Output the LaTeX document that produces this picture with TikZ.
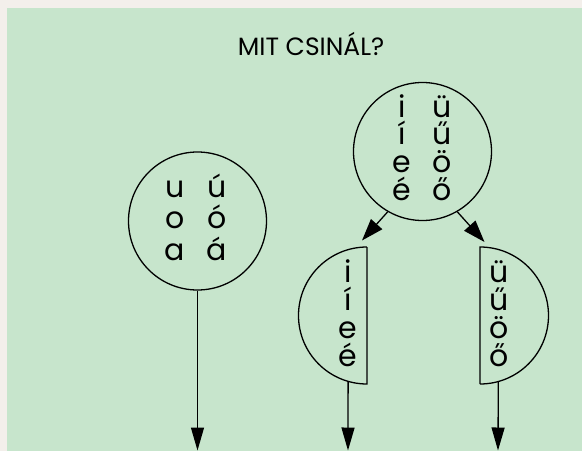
\documentclass[tikz,border=0pt]{standalone}
\usepackage{fontspec}
\setmainfont{Poppins}
\usetikzlibrary{arrows.meta}
\definecolor{bggreen}{RGB}{199,229,204}
\definecolor{paper}{RGB}{243,239,235}
\tikzset{
  ring/.style={draw, circle, line width=1.3pt, minimum size=138pt, inner sep=0pt},
  half/.style={draw, line width=1.3pt},
  vowel/.style={anchor=base, inner sep=0pt, font=\fontsize{30}{30}\selectfont},
  title/.style={anchor=base, inner sep=0pt, font=\fontsize{25}{25}\selectfont},
  arr/.style={line width=1.3pt, -{Triangle[length=23pt,width=13pt]}},
  darr/.style={line width=1.3pt, -{Triangle[length=22pt,width=15pt]}}
}
\begin{document}
\begin{tikzpicture}[x=1pt,y=-1pt]
\useasboundingbox (0,0) rectangle (582,451);
\fill[paper] (0,0) rectangle (582,451);
\fill[bggreen] (7,8) rectangle (582,451);

\node[title] (ttl) at (311,55) {MIT CSINÁL?};

% left circle
\node[ring] (L) at (197.5,221) {};
\node[vowel] (l1) at (175,197) {u};
\node[vowel] (l2) at (217,197) {ú};
\node[vowel] (l3) at (175,228.5) {o};
\node[vowel] (l4) at (217,228.5) {ó};
\node[vowel] (l5) at (175,260) {a};
\node[vowel] (l6) at (217,260) {á};
\coordinate (Lend) at (197.5,450.5);
\draw[arr] (L.south) -- (Lend);

% top right circle
\node[ring] (T) at (422.5,151.5) {};
\node[vowel] (t1) at (402,117) {i};
\node[vowel] (t2) at (442,117) {ü};
\node[vowel] (t3) at (402,144.7) {í};
\node[vowel] (t4) at (442,144.7) {ű};
\node[vowel] (t5) at (402,172.3) {e};
\node[vowel] (t6) at (442,172.3) {ö};
\node[vowel] (t7) at (402,200) {é};
\node[vowel] (t8) at (442,200) {ő};

% left half
\coordinate (SLc) at (367,315.5);
\coordinate (SLtop) at (367,247);
\coordinate (SLbot) at (367,384);
\draw[half] (SLtop) -- (SLbot) arc[start angle=90, end angle=270, radius=68.5];
\node[vowel] (s1) at (348,282) {i};
\node[vowel] (s2) at (348,310) {í};
\node[vowel] (s3) at (348,338) {e};
\node[vowel] (s4) at (348,366) {é};

% right half
\coordinate (SRc) at (480,315.5);
\coordinate (SRtop) at (480,247);
\coordinate (SRbot) at (480,384);
\draw[half] (SRbot) -- (SRtop) arc[start angle=270, end angle=450, radius=68.5];
\node[vowel] (r1) at (499,282) {ü};
\node[vowel] (r2) at (499,310) {ű};
\node[vowel] (r3) at (499,338) {ö};
\node[vowel] (r4) at (499,366) {ő};

% diagonal arrows
\coordinate (tipL) at (362,240.5);
\coordinate (tipR) at (484.5,242);
\draw[darr] (T.-120) -- (tipL);
\draw[darr] (T.-60) -- (tipR);

% arrows from halves
\path (SLc) ++(106:68.5) coordinate (SLout);
\path (SRc) ++(74.5:68.5) coordinate (SRout);
\coordinate (SLend) at (348,450.5);
\coordinate (SRend) at (498,450.5);
\draw[arr] (SLout) -- (SLend);
\draw[arr] (SRout) -- (SRend);
\end{tikzpicture}
\end{document}
